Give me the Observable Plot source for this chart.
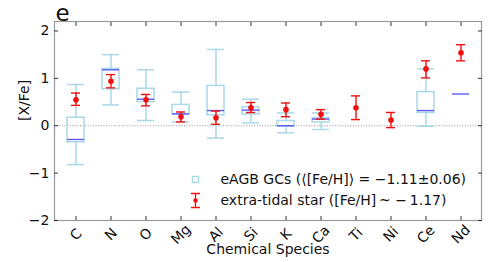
<!DOCTYPE html>
<html>
<head>
<meta charset="utf-8">
<script src="https://cdn.jsdelivr.net/npm/d3@7"></script>
<script src="https://cdn.jsdelivr.net/npm/@observablehq/plot@0.6"></script>
<style>
  html, body { margin: 0; padding: 0; background: #fff; }
  #chart svg { display: block; }
</style>
</head>
<body>
<div id="chart"></div>
<script>
const species = ["C","N","O","Mg","Al","Si","K","Ca","Ti","Ni","Ce","Nd"];
// eAGB GCs box statistics
const whiskLo = [-0.82, 0.44, 0.11, 0.08, -0.26, 0.06, -0.15, -0.08, null, null, -0.01, null];
const q1      = [-0.35, 0.77, 0.50, 0.24,  0.22, 0.24, -0.02,  0.07, null, null,  0.27, null];
const median  = [-0.29, 1.18, 0.56, 0.25,  0.32, 0.33,  0.00,  0.14, null, null,  0.32, 0.67];
const q3      = [ 0.17, 1.20, 0.78, 0.44,  0.84, 0.39,  0.10,  0.16, null, null,  0.71, null];
const whiskHi = [ 0.87, 1.50, 1.18, 0.71,  1.61, 0.56,  0.27,  0.27, null, null,  1.20, null];
// extra-tidal star
const starVal = [0.55, 0.94, 0.55, 0.19, 0.17, 0.38, 0.34, 0.24, 0.38,  0.12, 1.20, 1.54];
const starLo  = [0.43, 0.80, 0.42, 0.08, 0.03, 0.28, 0.19, 0.14, 0.13, -0.04, 1.01, 1.37];
const starHi  = [0.69, 1.08, 0.66, 0.29, 0.31, 0.49, 0.48, 0.34, 0.63,  0.28, 1.37, 1.71];
const yTicks = [-2, -1, 0, 1, 2];
const legendLabels = ["eAGB GCs (\u27E8[Fe/H]\u27E9 = \u22121.11\u00B10.06)", "extra-tidal star ([Fe/H]\u2009~ \u2212\u20091.17)"];

const boxes = species.map((s, i) => ({s, lo: whiskLo[i], q1: q1[i], med: median[i], q3: q3[i], hi: whiskHi[i]}));
const withBox = boxes.filter(d => d.q1 != null);
const withMed = boxes.filter(d => d.med != null);
const star = species.map((s, i) => ({s, v: starVal[i], lo: starLo[i], hi: starHi[i]}));

const LB = "#a9d8e8";
const MED = "#5c5cf2";
const RED = "#f01010";
const font = "DejaVu Sans, sans-serif";
const noLabel = () => "";

const errSymbol = {
  draw(ctx, size) {
    const h = 7, w = 4.5;
    ctx.moveTo(0, -h); ctx.lineTo(0, h);
    ctx.moveTo(-w, -h); ctx.lineTo(w, -h);
    ctx.moveTo(-w, h); ctx.lineTo(w, h);
  }
};

const chart = Plot.plot({
  width: 491,
  height: 262,
  marginLeft: 54,
  marginRight: 10,
  marginTop: 21,
  marginBottom: 42,
  style: {fontFamily: font, fontSize: "14px", color: "#111", background: "#fff"},
  x: {type: "band", domain: species, padding: 0},
  y: {domain: [-2, 2.2]},
  marks: [
    Plot.ruleY([0], {stroke: "#888", strokeDasharray: "1,1.6", strokeWidth: 0.9}),
    // boxes
    Plot.barY(withBox, {x: "s", y1: "q1", y2: "q3", insetLeft: 9, insetRight: 9, fill: "none", stroke: LB, strokeWidth: 1.5}),
    Plot.ruleX(withBox, {x: "s", y1: "q3", y2: "hi", stroke: LB, strokeWidth: 1.5}),
    Plot.ruleX(withBox, {x: "s", y1: "q1", y2: "lo", stroke: LB, strokeWidth: 1.5}),
    Plot.tickY(withBox, {x: "s", y: "hi", insetLeft: 9, insetRight: 9, stroke: LB, strokeWidth: 1.5}),
    Plot.tickY(withBox, {x: "s", y: "lo", insetLeft: 9, insetRight: 9, stroke: LB, strokeWidth: 1.5}),
    Plot.tickY(withMed, {x: "s", y: "med", insetLeft: 9, insetRight: 9, stroke: MED, strokeWidth: 1.4}),
    // extra-tidal star
    Plot.ruleX(star, {x: "s", y1: "lo", y2: "hi", stroke: RED, strokeWidth: 1.4}),
    Plot.tickY(star, {x: "s", y: "lo", insetLeft: 13, insetRight: 13, stroke: RED, strokeWidth: 1.4}),
    Plot.tickY(star, {x: "s", y: "hi", insetLeft: 13, insetRight: 13, stroke: RED, strokeWidth: 1.4}),
    Plot.dot(star, {x: "s", y: "v", r: 2.8, fill: RED}),
    // frame and ticks (inward)
    Plot.frame({stroke: "#9a9a9a", strokeWidth: 1.2}),
    Plot.axisX({anchor: "bottom", tickSize: 4, dy: -4, tickFormat: noLabel, label: null, stroke: "#333"}),
    Plot.axisX({anchor: "top", tickSize: 4, dy: 4, tickFormat: noLabel, label: null, stroke: "#333"}),
    Plot.axisY(yTicks, {anchor: "left", tickSize: 4, dx: 4, tickFormat: noLabel, label: null, stroke: "#333"}),
    Plot.axisY(yTicks, {anchor: "right", tickSize: 4, dx: -4, tickFormat: noLabel, label: null, stroke: "#333"}),
    Plot.axisY(yTicks, {anchor: "left", tickSize: 0, tickPadding: 5, tickFormat: d => d < 0 ? "\u2212" + Math.abs(d) : String(d), label: null, fontSize: 14, fill: "#111"}),
    // rotated x tick labels
    Plot.text(species, {x: d => d, frameAnchor: "bottom", dy: 14, rotate: -45, textAnchor: "middle", lineAnchor: "middle", fontSize: 14, fill: "#111"}),
    // axis titles
    Plot.text(["Chemical Species"], {frameAnchor: "bottom", dy: 29, lineAnchor: "middle", fontSize: 14, fill: "#111"}),
    Plot.text(["[X/Fe]"], {frameAnchor: "left", dx: -30, rotate: -90, lineAnchor: "middle", fontSize: 14, fill: "#111"}),
    Plot.text(["e"], {frameAnchor: "top-left", dx: 1, dy: -1, textAnchor: "start", lineAnchor: "bottom", fontSize: 23, fill: "#111"}),
    // legend
    Plot.dot([0], {frameAnchor: "top-left", dx: 141, dy: 158, symbol: "square", r: 3.4, stroke: LB, strokeWidth: 1.4, fill: "none"}),
    Plot.text([legendLabels[0]], {frameAnchor: "top-left", dx: 166, dy: 158, textAnchor: "start", lineAnchor: "middle", fontSize: 14, fill: "#111"}),
    Plot.dot([0], {frameAnchor: "top-left", dx: 141, dy: 179, symbol: errSymbol, r: 4, stroke: RED, strokeWidth: 1.3, fill: "none"}),
    Plot.dot([0], {frameAnchor: "top-left", dx: 141, dy: 179, r: 2.2, fill: RED}),
    Plot.text([legendLabels[1]], {frameAnchor: "top-left", dx: 166, dy: 179, textAnchor: "start", lineAnchor: "middle", fontSize: 14, fill: "#111"})
  ]
});
document.getElementById("chart").appendChild(chart);
</script>
</body>
</html>
